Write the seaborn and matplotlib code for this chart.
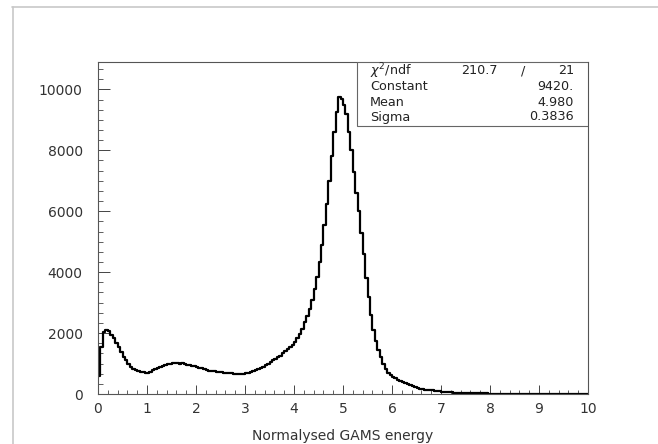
import numpy as np
import seaborn as sns
import matplotlib.pyplot as plt
from matplotlib.lines import Line2D
from matplotlib.patches import Rectangle
from matplotlib.ticker import MultipleLocator

# === Dati: istogramma energia GAMS normalizzata (bin da 0.05) ===
bin_width = 0.05
counts = [
    600, 1550, 2030, 2100, 2060, 1940, 1830, 1690, 1550, 1390,   # 0.0 - 0.5
    1230, 1100, 990, 900, 830, 790, 760, 735, 715, 700,          # 0.5 - 1.0
    705, 730, 775, 810, 850, 895, 930, 960, 985, 1000,           # 1.0 - 1.5
    1005, 1005, 1005, 1000, 1030, 990, 965, 950, 930, 910,       # 1.5 - 2.0
    895, 870, 840, 820, 790, 765, 750, 740, 730, 720,            # 2.0 - 2.5
    715, 705, 700, 690, 680, 670, 660, 660, 655, 665,            # 2.5 - 3.0
    680, 700, 720, 750, 780, 820, 860, 900, 950, 1000,           # 3.0 - 3.5
    1050, 1100, 1150, 1200, 1260, 1330, 1400, 1470, 1540, 1600,  # 3.5 - 4.0
    1700, 1830, 1980, 2150, 2350, 2570, 2800, 3100, 3450, 3850,  # 4.0 - 4.5
    4350, 4900, 5550, 6250, 7000, 7800, 8600, 9250, 9750, 9700,  # 4.5 - 5.0
    9500, 9200, 8600, 8000, 7300, 6600, 6000, 5300, 4600, 3800,  # 5.0 - 5.5
    3200, 2600, 2100, 1750, 1450, 1200, 1000, 820, 700, 620,     # 5.5 - 6.0
    560, 510, 470, 430, 390, 350, 320, 290, 260, 230,            # 6.0 - 6.5
    200, 180, 160, 145, 135, 125, 115, 105, 95, 85,              # 6.5 - 7.0
    78, 70, 63, 57, 52, 47, 43, 39, 36, 33,                      # 7.0 - 7.5
    30, 28, 26, 24, 22, 20, 19, 18, 17, 16,                      # 7.5 - 8.0
    15, 14, 13, 12, 12, 11, 10, 10, 9, 9,                        # 8.0 - 8.5
    8, 8, 7, 7, 7, 6, 6, 6, 5, 5,                                # 8.5 - 9.0
    5, 5, 4, 4, 4, 4, 3, 3, 3, 3,                                # 9.0 - 9.5
    3, 3, 3, 2, 2, 2, 2, 2, 2, 2,                                # 9.5 - 10.0
]
centers = np.arange(len(counts)) * bin_width + bin_width / 2

# parametri del fit gaussiano
fit_labels = ["Constant", "Mean", "Sigma"]
fit_values = ["9420.", "4.980", "0.3836"]
chi2_value = "210.7"
ndf_value = "21"

x_ticks = list(range(0, 11))
y_ticks = [0, 2000, 4000, 6000, 8000, 10000]

# === Figura ===
sns.set_style("white")
plt.rcParams["font.family"] = ["DejaVu Sans"]

fig = plt.figure(figsize=(6.58, 4.44), dpi=100)
ax = fig.add_axes([98 / 658, 50 / 444, 490 / 658, 332 / 444])

sns.histplot(x=centers, weights=counts, binwidth=bin_width, binrange=(0, 10),
             element="step", fill=False, color="black", linewidth=1.6, ax=ax)

ax.set_xlim(0, 10)
ax.set_ylim(0, 10900)
ax.set_xticks(x_ticks)
ax.set_yticks(y_ticks)
ax.xaxis.set_minor_locator(MultipleLocator(0.2))
ax.yaxis.set_minor_locator(MultipleLocator(2000 / 6))
ax.tick_params(axis="x", which="major", direction="in", length=6.5, width=0.7,
               color="#444", labelsize=10, labelcolor="#333", pad=6)
ax.tick_params(axis="x", which="minor", direction="in", length=3.2, width=0.6, color="#444")
ax.tick_params(axis="y", which="major", direction="in", length=8.5, width=0.7,
               color="#444", labelsize=10, labelcolor="#333", pad=11)
ax.tick_params(axis="y", which="minor", direction="in", length=3.5, width=0.6, color="#444")
ax.tick_params(bottom=True, left=True, top=False, right=False, which="both")

for s in ax.spines.values():
    s.set_color("#555")
    s.set_linewidth(0.8)

ax.set_xlabel("Normalysed GAMS energy", fontsize=10, color="#333", labelpad=9)
ax.set_ylabel("")

# === Box statistiche ===
box_x0 = (357 - 98) / 490
box_y0 = (394 - 126) / 332
ax.add_patch(Rectangle((box_x0, box_y0), 1 - box_x0, 1 - box_y0, transform=ax.transAxes,
                       facecolor="white", edgecolor="#666", linewidth=0.8, zorder=5))
left_x = (370 - 98) / 490
right_x = (574 - 98) / 490
rows_y = [(394 - y) / 332 for y in (71, 87, 102, 117)]
txt = dict(transform=ax.transAxes, fontsize=9.2, color="#222", va="center", zorder=6)
ax.text(left_x, rows_y[0], r"$\chi^2$/ndf", ha="left", **txt)
ax.text((498 - 98) / 490, rows_y[0], chi2_value, ha="right", **txt)
ax.text((523 - 98) / 490, rows_y[0], "/", ha="center", **txt)
ax.text(right_x, rows_y[0], ndf_value, ha="right", **txt)
for i, (lab, val) in enumerate(zip(fit_labels, fit_values)):
    ax.text(left_x, rows_y[i + 1], lab, ha="left", **txt)
    ax.text(right_x, rows_y[i + 1], val, ha="right", **txt)

# cornice esterna grigia
fig.add_artist(Line2D([12 / 658, 1], [1 - 7.5 / 444, 1 - 7.5 / 444], color="#c8c8c8", lw=1.2))
fig.add_artist(Line2D([12.5 / 658, 12.5 / 658], [0, 1 - 7.5 / 444], color="#c8c8c8", lw=1.2))

fig.savefig("out.png", dpi=100)
